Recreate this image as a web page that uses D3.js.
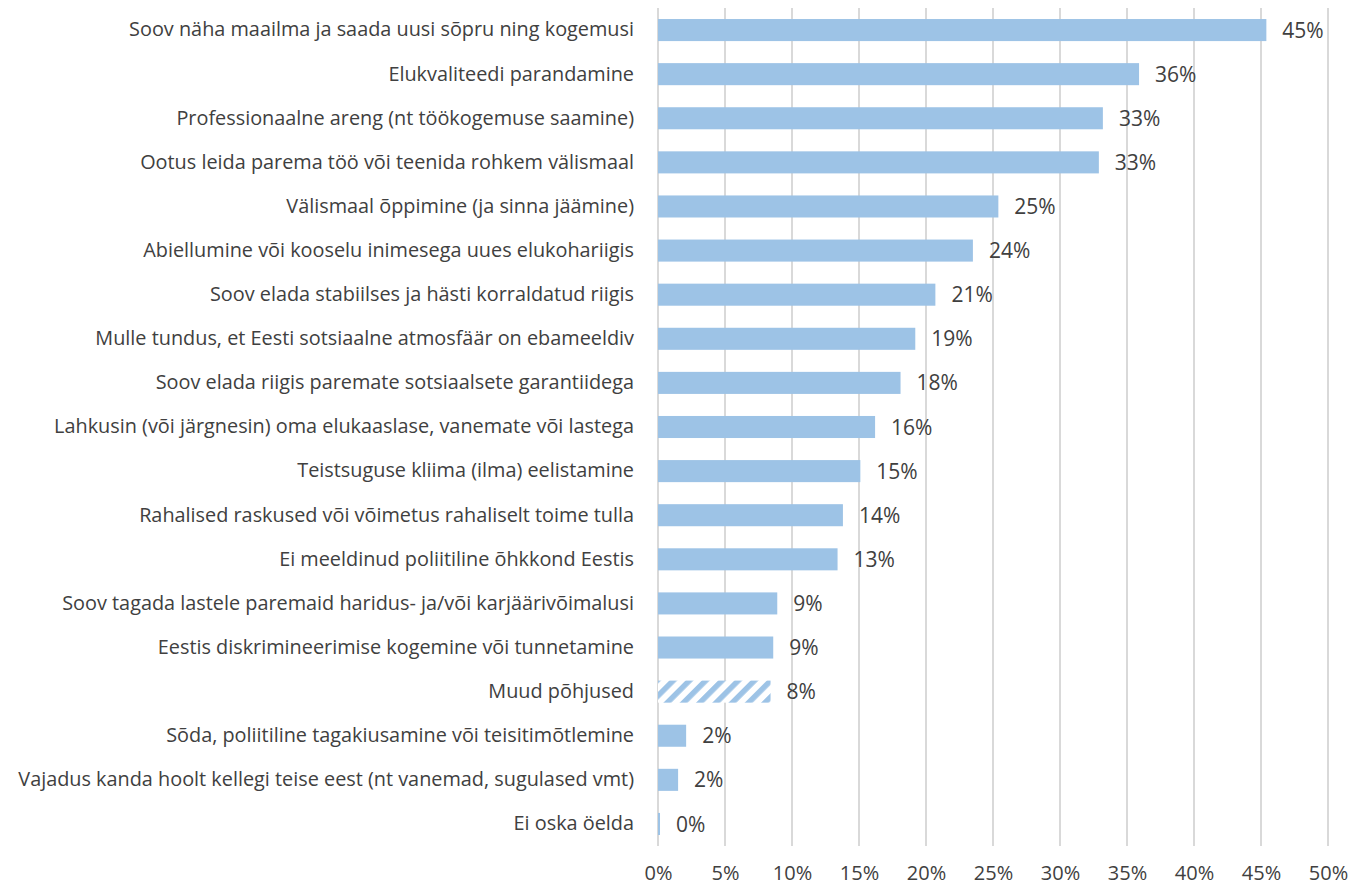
<!DOCTYPE html>
<html>
<head>
<meta charset="utf-8">
<script src="https://cdn.jsdelivr.net/npm/d3@7"></script>
<style>
  html, body { margin: 0; padding: 0; background: #fff; }
  svg { display: block; }
  text { font-family: "Open Sans", Lato, sans-serif; fill: #404040; }
</style>
</head>
<body>
<svg id="chart" width="1362" height="887"></svg>
<script>
// Reasons for leaving Estonia, share of respondents (%)
const categories = [
  "Soov näha maailma ja saada uusi sõpru ning kogemusi",
  "Elukvaliteedi parandamine",
  "Professionaalne areng (nt töökogemuse saamine)",
  "Ootus leida parema töö või teenida rohkem välismaal",
  "Välismaal õppimine (ja sinna jäämine)",
  "Abiellumine või kooselu inimesega uues elukohariigis",
  "Soov elada stabiilses ja hästi korraldatud riigis",
  "Mulle tundus, et Eesti sotsiaalne atmosfäär on ebameeldiv",
  "Soov elada riigis paremate sotsiaalsete garantiidega",
  "Lahkusin (või järgnesin) oma elukaaslase, vanemate või lastega",
  "Teistsuguse kliima (ilma) eelistamine",
  "Rahalised raskused või võimetus rahaliselt toime tulla",
  "Ei meeldinud poliitiline õhkkond Eestis",
  "Soov tagada lastele paremaid haridus- ja/või karjäärivõimalusi",
  "Eestis diskrimineerimise kogemine või tunnetamine",
  "Muud põhjused",
  "Sõda, poliitiline tagakiusamine või teisitimõtlemine",
  "Vajadus kanda hoolt kellegi teise eest (nt vanemad, sugulased vmt)",
  "Ei oska öelda"
];
const values = [45.4, 35.9, 33.2, 32.9, 25.4, 23.5, 20.7, 19.2, 18.1, 16.2,
                15.1, 13.8, 13.4, 8.9, 8.6, 8.4, 2.1, 1.5, 0.15];
// categories drawn with a striped fill
const hatched = ["Muud põhjused"];
const xTicks = [0, 5, 10, 15, 20, 25, 30, 35, 40, 45, 50];

const svg = d3.select("#chart");
const barColor = "#9dc3e6";
const textColor = "#404040";
const fontFamily = "'Open Sans', Lato, sans-serif";
const numberSize = 21;

const x = d3.scaleLinear().domain([0, 50]).range([658, 1328]);
const y = d3.scaleBand().domain(categories).range([8, 846])
  .paddingInner(0.5).paddingOuter(0.25);

// size the text so the longest category label spans the left margin
const labelRight = 634, labelLeft = 18;
const probe = svg.append("text").attr("font-size", 20)
  .style("font-family", fontFamily)
  .text(categories.reduce((a, b) => a.length > b.length ? a : b));
const probeW = probe.node().getComputedTextLength();
probe.remove();
const fontSize = Math.min(20, 20 * (labelRight - labelLeft) / probeW);

// striped pattern
const defs = svg.append("defs");
const pat = defs.append("pattern")
  .attr("id", "stripes")
  .attr("patternUnits", "userSpaceOnUse")
  .attr("width", 11.5).attr("height", 11.5)
  .attr("patternTransform", "rotate(45)");
pat.append("rect").attr("width", 11.5).attr("height", 11.5).attr("fill", "#fff");
pat.append("rect").attr("width", 5.5).attr("height", 11.5).attr("fill", barColor);

// vertical gridlines
svg.append("g").selectAll("line").data(xTicks).join("line")
  .attr("x1", d => x(d)).attr("x2", d => x(d))
  .attr("y1", 8).attr("y2", 846)
  .attr("stroke", "#d9d9d9").attr("stroke-width", 2);

// x axis labels
const xAxis = d3.axisBottom(x).tickValues(xTicks).tickFormat(d => d + "%")
  .tickSize(0).tickPadding(0);
const gx = svg.append("g").attr("transform", "translate(0,873)").call(xAxis);
gx.select(".domain").remove();
gx.selectAll("text").attr("font-size", 20).attr("dy", "0.35em")
  .style("font-family", fontFamily).style("fill", textColor);

// bars
svg.append("g").selectAll("rect").data(categories).join("rect")
  .attr("x", x(0))
  .attr("y", d => y(d))
  .attr("height", y.bandwidth())
  .attr("width", (d, i) => x(values[i]) - x(0))
  .attr("fill", d => hatched.includes(d) ? "url(#stripes)" : barColor);

// value labels
svg.append("g").selectAll("text").data(categories).join("text")
  .attr("x", (d, i) => x(values[i]) + 16)
  .attr("y", d => y(d) + y.bandwidth() / 2)
  .attr("dy", "0.36em")
  .attr("font-size", numberSize)
  .style("font-family", fontFamily).style("fill", textColor)
  .text((d, i) => Math.round(values[i]) + "%");

// category labels
const yAxis = d3.axisLeft(y).tickSize(0).tickPadding(0);
const gy = svg.append("g").attr("transform", `translate(${labelRight},0)`).call(yAxis);
gy.select(".domain").remove();
gy.selectAll("text").attr("font-size", fontSize)
  .style("font-family", fontFamily).style("fill", textColor);
</script>
</body>
</html>
